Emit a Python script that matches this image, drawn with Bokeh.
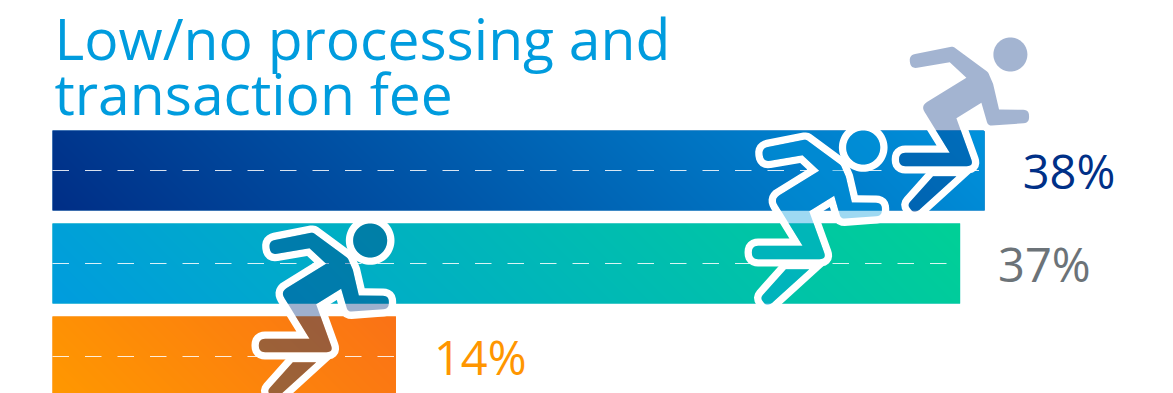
import numpy as np
from bokeh.core.properties import value
from bokeh.embed import file_html
from bokeh.models import Range1d
from bokeh.plotting import figure
from bokeh.resources import INLINE

title_lines = ["Low/no processing and", "transaction fee"]
values = [38, 37, 14]
value_labels = ["38%", "37%", "14%"]
rows = [0, -1, -2]
label_colors = ["#003087", "#6C7378", "#FF9600"]
gradient_starts = [(0, 46, 134), (0, 156, 222), (255, 152, 0)]
gradient_ends = [(0, 146, 220), (0, 208, 150), (250, 114, 22)]
runner_heads = [39.05, 33.05, 12.95]
runner_colors = ["#00307F", "#009CDE", "#00307F"]
runner_alphas = [0.36, 0.38, 0.38]

W, H = 1173, 393
PX_PER_UNIT = 24.53
ROW_STEP = 93.0
LEFT = 52
ROW0_Y = 170
BAR_PX = 80

p = figure(width=W, height=H, output_backend="svg", toolbar_location=None,
           x_range=Range1d(-LEFT / PX_PER_UNIT, (W - LEFT) / PX_PER_UNIT),
           y_range=Range1d(-(H - ROW0_Y) / ROW_STEP, ROW0_Y / ROW_STEP),
           min_border=0, outline_line_color=None)
p.axis.visible = False
p.grid.visible = False
p.background_fill_color = "white"
p.border_fill_color = "white"

bar_h = BAR_PX / ROW_STEP

# Solid base bars, with a diagonal gradient laid over each one.
mids = ["#%02x%02x%02x" % tuple((np.array(a) + np.array(b)) // 2)
        for a, b in zip(gradient_starts, gradient_ends)]
p.hbar(y=rows, left=0, right=values, height=bar_h, color=mids, line_color=None)

for v, r, c0, c1 in zip(values, rows, gradient_starts, gradient_ends):
    w = int(round(v * PX_PER_UNIT))
    yy, xx = np.mgrid[0:BAR_PX, 0:w]
    t = (xx + yy) / (w + BAR_PX - 2)
    img = np.zeros((BAR_PX, w), dtype=np.uint32)
    view = img.view(np.uint8).reshape((BAR_PX, w, 4))
    for ch in range(3):
        view[..., ch] = np.round(c0[ch] + (c1[ch] - c0[ch]) * t).astype(np.uint8)
    view[..., 3] = 255
    p.image_rgba(image=[img], x=0, y=r - bar_h / 2, dw=v, dh=bar_h)

# Lane markings along the centre of every bar.
DASH_PERIOD = 32.5 / PX_PER_UNIT
DASH_LEN = 16.5 / PX_PER_UNIT
for v, r in zip(values, rows):
    starts = np.arange(0, v, DASH_PERIOD)
    ends = np.minimum(starts + DASH_LEN, v)
    p.segment(x0=starts, y0=[r] * len(starts), x1=ends, y1=[r] * len(starts),
              line_color="white", line_alpha=0.85, line_width=1)


def rounded(points, step=4.0):
    """Replace each (x, y, radius) corner by a short arc; radius 0 stays sharp."""
    n = len(points)
    out = []
    for i in range(n):
        px, py, rad = points[i]
        here = np.array([px, py], float)
        if rad == 0:
            out.append(here)
            continue
        a = np.array(points[i - 1][:2], float) - here
        b = np.array(points[(i + 1) % n][:2], float) - here
        ua, ub = a / np.linalg.norm(a), b / np.linalg.norm(b)
        ang = np.arccos(np.clip(ua @ ub, -1, 1))
        cut = min(rad / np.tan(ang / 2), np.linalg.norm(a) * 0.48, np.linalg.norm(b) * 0.48)
        s, e = here + ua * cut, here + ub * cut
        for u in np.linspace(0, 1, max(4, int(cut / step) + 3)):
            out.append((1 - u) ** 2 * s + 2 * u * (1 - u) * here + u ** 2 * e)
    return np.array(out)


def grown(poly, dist):
    """Push a closed polygon outwards by dist, keeping mitred inner corners."""
    area = 0.5 * np.sum(poly[:, 0] * np.roll(poly[:, 1], -1) - np.roll(poly[:, 0], -1) * poly[:, 1])
    sign = 1.0 if area > 0 else -1.0
    prev_e = poly - np.roll(poly, 1, axis=0)
    next_e = np.roll(poly, -1, axis=0) - poly
    prev_e = prev_e / np.linalg.norm(prev_e, axis=1, keepdims=True)
    next_e = next_e / np.linalg.norm(next_e, axis=1, keepdims=True)
    n1 = sign * np.c_[prev_e[:, 1], -prev_e[:, 0]]
    n2 = sign * np.c_[next_e[:, 1], -next_e[:, 0]]
    bis = n1 + n2
    bis = bis / np.linalg.norm(bis, axis=1, keepdims=True)
    return poly + bis * (dist / np.maximum((bis * n1).sum(axis=1, keepdims=True), 0.35))


# Runner icon, in thirds of a pixel around the head centre (x right, y down).
HEAD_X, HEAD_Y, HEAD_R = 812, 102, 51
BODY = [(508, 104, 20), (640, 78, 12), (745, 155, 18), (760, 190, 10), (778, 267, 0),
        (868, 268, 18), (868, 307, 18), (745, 316, 14), (725, 247, 0), (650, 293, 0),
        (702, 437, 15), (478, 437, 20), (478, 397, 20), (630, 397, 0), (543, 256, 22),
        (680, 172, 0), (630, 125, 0), (513, 145, 20)]
FOOT = [(580, 467, 0), (650, 467, 0), (540, 567, 8), (522, 578, 14), (503, 553, 14)]
RING = 22

theta = np.linspace(0, 2 * np.pi, 72, endpoint=False)
head = np.c_[HEAD_X + HEAD_R * np.cos(theta), HEAD_Y + HEAD_R * np.sin(theta)]
shapes = [head, rounded(BODY), rounded(FOOT)]

HEAD_ABOVE_ROW = 116 / ROW_STEP


def to_data(poly, hx, r):
    x = hx + (poly[:, 0] - HEAD_X) / 3 / PX_PER_UNIT
    y = r + HEAD_ABOVE_ROW - (poly[:, 1] - HEAD_Y) / 3 / ROW_STEP
    return x.tolist(), y.tolist()


for hx, r, col, alpha in zip(runner_heads, rows, runner_colors, runner_alphas):
    ring_x, ring_y, fill_x, fill_y = [], [], [], []
    for shape in shapes:
        ix, iy = to_data(shape, hx, r)
        ox, oy = to_data(grown(shape, RING), hx, r)
        ring_x.append([[ox, ix]])
        ring_y.append([[oy, iy]])
        fill_x.append([[ix]])
        fill_y.append([[iy]])
    p.multi_polygons(xs=ring_x, ys=ring_y, fill_color="white", line_color=None)
    p.multi_polygons(xs=fill_x, ys=fill_y, fill_color=col, fill_alpha=alpha, line_color=None)

# Value labels sit a fixed gap after the end of each bar.
p.text(x=values, y=rows, text=value_labels, x_offset=38, y_offset=0,
       text_font=value("Open Sans"), text_font_size="47px", text_color=label_colors,
       text_baseline="alphabetic", text_align="left")

for line, base in zip(title_lines, [37, 92]):
    p.text(x=[(54 - LEFT) / PX_PER_UNIT], y=[(ROW0_Y - base) / ROW_STEP], text=[line],
           text_font=value("Open Sans"), text_font_size="57px", text_color="#009CDE",
           text_baseline="alphabetic", text_align="left")

open("out.html", "w").write(file_html(p, INLINE))
